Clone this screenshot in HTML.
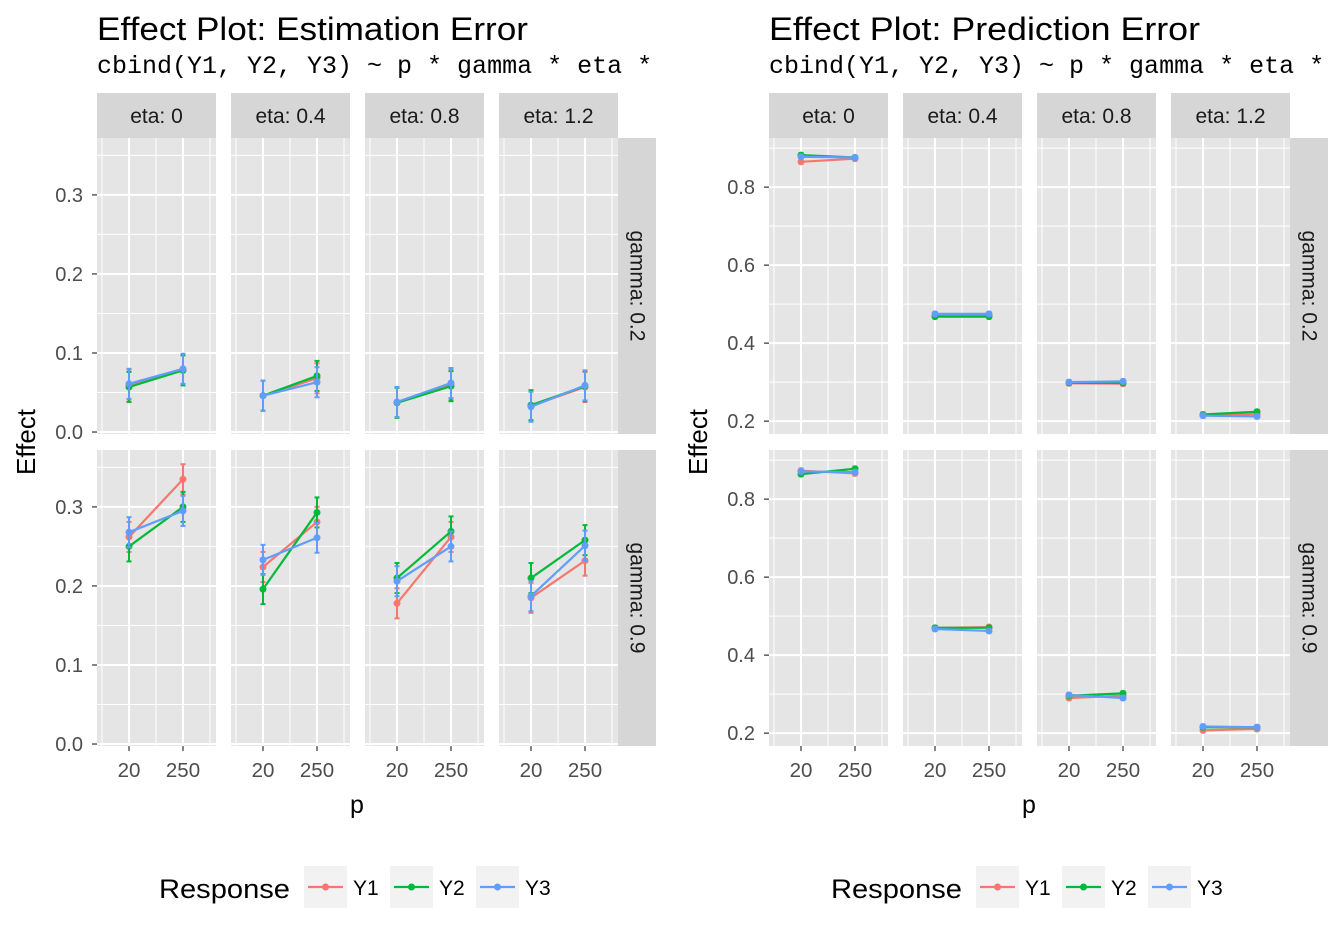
<!DOCTYPE html>
<html><head><meta charset="utf-8">
<style>
html,body{margin:0;padding:0;background:#fff;}
svg{display:block;font-family:"Liberation Sans",Arial,sans-serif;}
</style></head>
<body>
<svg id="chart" width="1344" height="940" viewBox="0 0 1344 940"></svg>
<script>
const etaLabels = ["eta: 0","eta: 0.4","eta: 0.8","eta: 1.2"];
const gammaLabels = ["gamma: 0.2","gamma: 0.9"];
const pValues = ["20","250"];
const seriesNames = ["Y1","Y2","Y3"];
const seriesColors = ["#F8766D","#00BA38","#619CFF"];
// Estimation error: [gamma][eta] -> [at p=20, at p=250]
const estY1 = [[[0.060,0.079],[0.046,0.068],[0.038,0.060],[0.033,0.057]],
               [[0.262,0.335],[0.224,0.281],[0.178,0.262],[0.185,0.232]]];
const estY2 = [[[0.057,0.078],[0.046,0.071],[0.037,0.058],[0.034,0.058]],
               [[0.250,0.300],[0.196,0.293],[0.210,0.269],[0.210,0.258]]];
const estY3 = [[[0.061,0.080],[0.046,0.063],[0.038,0.062],[0.032,0.059]],
               [[0.268,0.295],[0.233,0.261],[0.206,0.250],[0.187,0.251]]];
const estErr = 0.019;
const predY1 = [[[0.865,0.873],[0.472,0.472],[0.297,0.296],[0.215,0.218]],
                [[0.873,0.866],[0.470,0.472],[0.290,0.296],[0.207,0.211]]];
const predY2 = [[[0.882,0.876],[0.468,0.468],[0.298,0.298],[0.217,0.224]],
                [[0.864,0.878],[0.470,0.470],[0.296,0.302],[0.215,0.215]]];
const predY3 = [[[0.878,0.876],[0.475,0.475],[0.300,0.302],[0.214,0.212]],
                [[0.871,0.869],[0.467,0.462],[0.298,0.290],[0.217,0.215]]];
const predErr = 0.005;
const estTicks = [0,0.1,0.2,0.3];
const predTicks = [0.2,0.4,0.6,0.8];

const NS="http://www.w3.org/2000/svg";
const svg=document.getElementById('chart');
function el(tag,attrs,parent,text){const e=document.createElementNS(NS,tag);for(const k in attrs)e.setAttribute(k,attrs[k]);if(text!==undefined)e.textContent=text;(parent||svg).appendChild(e);return e;}

function drawPlot(ox, title, data, err, ticks, dmin, dmax, fmt, name){
  const g=el('g',{});
  
  
  const t=el('text',{x:ox,y:40,'font-size':32,fill:'#000',textLength:431,lengthAdjust:'spacingAndGlyphs'},g,title);
  
  
  const clip=el('clipPath',{id:'clip'+name},g);
  el('rect',{x:0,y:0,width:ox+576,height:940},clip);
  const st=el('text',{x:ox,y:73,'font-size':25,'font-family':'"Liberation Mono",monospace',fill:'#000','clip-path':'url(#clip'+name+')'},g,'cbind(Y1, Y2, Y3) ~ p * gamma * eta *');
  
  
  const rowTop=[138,450], ph=296, pw=119, gap=15;
  for(let r=0;r<2;r++){
    const yS=v=>rowTop[r]+ph-(v-dmin)/(dmax-dmin)*ph;
    const sr=el('rect',{x:ox+4*pw+3*gap,y:rowTop[r],width:38,height:ph,fill:'#d6d6d6'},g);
    
    
    const cx=ox+4*pw+3*gap+19, cy=rowTop[r]+ph/2;
    el('text',{x:cx,y:cy,'font-size':21,fill:'#1a1a1a','text-anchor':'middle','dominant-baseline':'central',transform:`rotate(90 ${cx} ${cy})`},g,gammaLabels[r]);
    ticks.forEach(tv=>{
      const y=yS(tv);
      el('line',{x1:ox-5,x2:ox,y1:y,y2:y,stroke:'#333','stroke-width':1.2},g);
      const tl=el('text',{x:ox-14,y:y+7,'font-size':20,fill:'#4d4d4d','text-anchor':'end'},g,fmt(tv));
      
      
    });
    for(let c=0;c<4;c++){
      const px=ox+c*(pw+gap);
      const xS=i=>px+32+i*54;
      const pr=el('rect',{x:px,y:rowTop[r],width:pw,height:ph,fill:'#e5e5e5'},g);
      
      
      const step=ticks[1]-ticks[0];
      for(let v=ticks[0]-step*3;v<=dmax+step;v+=step/2){
        if(v<dmin||v>dmax)continue;
        const major=Math.abs(Math.round((v-ticks[0])/step)-(v-ticks[0])/step)<1e-6;
        el('line',{x1:px,x2:px+pw,y1:yS(v),y2:yS(v),stroke:'#fff','stroke-width':major?2:1},g);
      }
      [5,59,113].forEach(o=>el('line',{x1:px+o,x2:px+o,y1:rowTop[r],y2:rowTop[r]+ph,stroke:'#fff','stroke-width':1},g));
      pValues.forEach((p,i)=>el('line',{x1:xS(i),x2:xS(i),y1:rowTop[r],y2:rowTop[r]+ph,stroke:'#fff','stroke-width':2},g));
      if(r===0){
        const s=el('rect',{x:px,y:93,width:pw,height:45,fill:'#d6d6d6'},g);
        
        
        el('text',{x:px+pw/2,y:123,'font-size':21,fill:'#1a1a1a','text-anchor':'middle'},g,etaLabels[c]);
      } else {
        pValues.forEach((p,i)=>{
          el('line',{x1:xS(i),x2:xS(i),y1:rowTop[r]+ph,y2:rowTop[r]+ph+5,stroke:'#333','stroke-width':1.2},g);
          const xl=el('text',{x:xS(i),y:777,'font-size':20.5,fill:'#4d4d4d','text-anchor':'middle'},g,p);
          
          
        });
      }
      for(let s=0;s<3;s++){
        const v=data[s][r][c], col=seriesColors[s];
        const ln=el('polyline',{points:v.map((d,i)=>xS(i)+','+yS(d)).join(' '),fill:'none',stroke:col,'stroke-width':2.2},g);
        
        
        v.forEach((d,i)=>{
          const x=xS(i);
          el('line',{x1:x,x2:x,y1:yS(d-err),y2:yS(d+err),stroke:col,'stroke-width':2},g);
          el('line',{x1:x-2.5,x2:x+2.5,y1:yS(d-err),y2:yS(d-err),stroke:col,'stroke-width':2},g);
          el('line',{x1:x-2.5,x2:x+2.5,y1:yS(d+err),y2:yS(d+err),stroke:col,'stroke-width':2},g);
          const pt=el('circle',{cx:x,cy:yS(d),r:3.5,fill:col},g);
          
          
        });
      }
    }
  }
  const yt=el('text',{x:0,y:0,'font-size':26,fill:'#000','text-anchor':'middle',transform:`translate(${ox-62},442) rotate(-90)`},g,'Effect');
  
  
  const xt=el('text',{x:ox+260,y:813,'font-size':25,fill:'#000','text-anchor':'middle'},g,'p');
  
  
  const lg=el('g',{},g);
  
  
  el('text',{x:ox+62,y:898,'font-size':27,fill:'#000',textLength:131,lengthAdjust:'spacingAndGlyphs'},lg,'Response');
  for(let s=0;s<3;s++){
    const kx=ox+207+s*86;
    const e=el('g',{},lg);
    
    
    el('rect',{x:kx,y:866,width:43,height:42,fill:'#f2f2f2'},e);
    el('line',{x1:kx+4,x2:kx+39,y1:887,y2:887,stroke:seriesColors[s],'stroke-width':2.2},e);
    el('circle',{cx:kx+21.5,cy:887,r:3.5,fill:seriesColors[s]},e);
    el('text',{x:kx+49,y:895,'font-size':21,fill:'#000'},e,seriesNames[s]);
  }
}
drawPlot(97,'Effect Plot: Estimation Error',[estY1,estY2,estY3],estErr,estTicks,-0.0025,0.372,v=>v.toFixed(1),'estimation-plot');
drawPlot(769,'Effect Plot: Prediction Error',[predY1,predY2,predY3],predErr,predTicks,0.167,0.926,v=>v.toFixed(1),'prediction-plot');
</script>
</body></html>
